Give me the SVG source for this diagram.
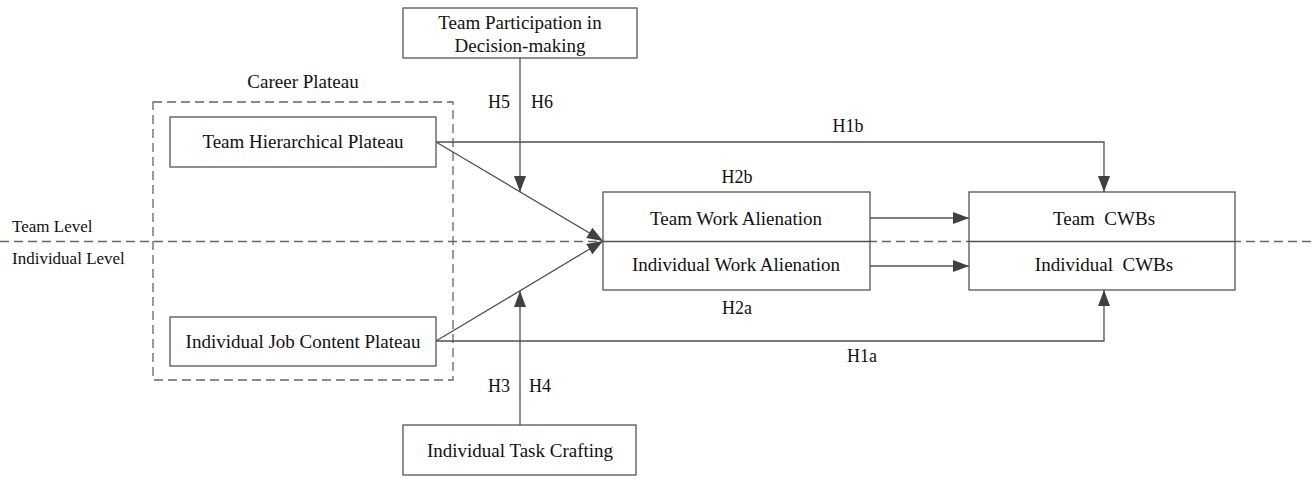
<svg xmlns="http://www.w3.org/2000/svg" width="1313" height="479" viewBox="0 0 1313 479">
<style>
text{font-family:"Liberation Serif","Times New Roman",serif;font-size:19px;fill:#111;text-anchor:middle}
.lvl{font-size:17px;text-anchor:start}
.h{font-size:18px}
.box{fill:#fff;stroke:#555;stroke-width:1.3}
.ln{fill:none;stroke:#505050;stroke-width:1.3}
.dash{fill:none;stroke:#666;stroke-width:1.3;stroke-dasharray:9,5}
</style>
<defs>
<marker id="ah" markerWidth="16" markerHeight="12" refX="16" refY="6" orient="auto" markerUnits="userSpaceOnUse">
<path d="M0,0 L16,6 L0,12 Z" fill="#404040"/>
</marker>
</defs>
<rect width="1313" height="479" fill="#fff"/>
<g id="levels">
<line class="dash" x1="0" y1="241.5" x2="1313" y2="241.5"/>
<text class="lvl" x="12" y="232">Team Level</text>
<text class="lvl" x="12" y="264">Individual Level</text>
</g>
<g id="career-plateau">
<rect class="dash" x="153" y="102" width="300" height="278"/>
<text x="303" y="88">Career Plateau</text>
</g>
<g id="connectors">
<polyline class="ln" points="436,142 1104,142 1104,192" marker-end="url(#ah)"/>
<polyline class="ln" points="436,341 1104,341 1104,290" marker-end="url(#ah)"/>
<line class="ln" x1="436" y1="142" x2="603" y2="241" marker-end="url(#ah)"/>
<line class="ln" x1="436" y1="341" x2="603" y2="241" marker-end="url(#ah)"/>
<line class="ln" x1="520" y1="58" x2="520" y2="192" marker-end="url(#ah)"/>
<line class="ln" x1="520" y1="425" x2="520" y2="291" marker-end="url(#ah)"/>
<line class="ln" x1="870" y1="218" x2="969" y2="218" marker-end="url(#ah)"/>
<line class="ln" x1="870" y1="266" x2="969" y2="266" marker-end="url(#ah)"/>
<text class="h" x="499" y="108">H5</text>
<text class="h" x="542" y="108">H6</text>
<text class="h" x="499" y="392">H3</text>
<text class="h" x="540" y="392">H4</text>
<text class="h" x="848" y="132">H1b</text>
<text class="h" x="862" y="362">H1a</text>
<text class="h" x="737" y="183">H2b</text>
<text class="h" x="737" y="314">H2a</text>
</g>
<g id="tpdm">
<rect class="box" x="403" y="8" width="234" height="50"/>
<text x="520" y="29">Team Participation in</text>
<text x="520" y="52">Decision-making</text>
</g>
<g id="thp">
<rect class="box" x="170" y="117" width="266" height="50"/>
<text x="303" y="148">Team Hierarchical Plateau</text>
</g>
<g id="ijcp">
<rect class="box" x="170" y="317" width="266" height="49"/>
<text x="303" y="348">Individual Job Content Plateau</text>
</g>
<g id="itc">
<rect class="box" x="403" y="425" width="233" height="50"/>
<text x="520" y="457">Individual Task Crafting</text>
</g>
<g id="wa">
<rect class="box" x="603" y="192" width="267" height="98"/>
<line class="ln" x1="603" y1="241.5" x2="870" y2="241.5"/>
<text x="736" y="225">Team Work Alienation</text>
<text x="736" y="271">Individual Work Alienation</text>
</g>
<g id="cwbs">
<rect class="box" x="969" y="192" width="266" height="98"/>
<line class="ln" x1="969" y1="241.5" x2="1235" y2="241.5"/>
<text x="1104" y="225" xml:space="preserve">Team  CWBs</text>
<text x="1104" y="271" xml:space="preserve">Individual  CWBs</text>
</g>
</svg>
